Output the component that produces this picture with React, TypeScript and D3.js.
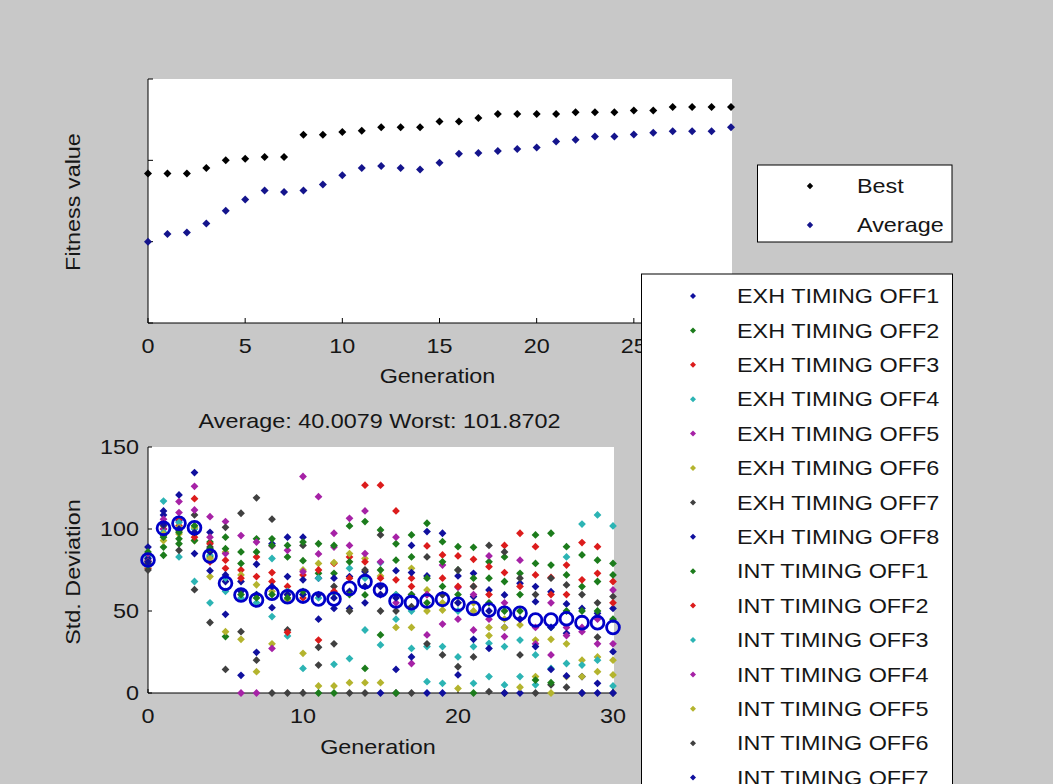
import React from "react";
import * as d3 from "d3";

// ---------- data ----------
const bestFitness = [1.837, 1.837, 1.837, 1.906, 2.0, 2.02, 2.04, 2.04, 2.314, 2.314, 2.347, 2.363, 2.408, 2.408, 2.408, 2.478, 2.478, 2.522, 2.571, 2.571, 2.571, 2.571, 2.592, 2.592, 2.592, 2.612, 2.612, 2.657, 2.657, 2.657, 2.657];
const avgFitness = [1.0, 1.094, 1.114, 1.224, 1.38, 1.518, 1.629, 1.612, 1.629, 1.702, 1.816, 1.906, 1.931, 1.906, 1.886, 1.971, 2.082, 2.09, 2.114, 2.139, 2.159, 2.233, 2.253, 2.294, 2.294, 2.318, 2.339, 2.359, 2.359, 2.359, 2.408];
const topXTicks = [0, 5, 10, 15, 20, 25, 30];
const topYTicks = [0, 1, 2, 3];

const exh1 = [89, 108.6, 120.8, 134.4, 98, 68, 68, 78.5, 91, 95, 95, 70, 51.6, 71, 74, 0, 74.6, 90, 98.4, 97.4, 71.4, 73, 62.8, 59.8, 66.9, 64.9, 61.8, 54.3, 51.6, 48.6, 51.6];
const exh2 = [84, 89, 91, 97, 92, 95, 86, 94, 94, 83, 80.7, 91, 73, 101.9, 104.5, 99.4, 91, 96.4, 103.5, 92.3, 89.2, 88.8, 80, 83, 73, 96.4, 97.4, 89.2, 84.2, 81, 79];
const exh3 = [76, 100, 102, 118.5, 91, 81, 75, 83, 73.4, 65, 72, 32.3, 79, 83, 126.7, 126.7, 111, 70, 89.7, 84.2, 83.6, 81.5, 77, 90, 97.4, 89.2, 70.5, 78, 91.7, 89.2, 68];
const exh4 = [83, 117, 83, 68, 55, 62, 58, 60, 82, 34.8, 15, 58, 60.8, 76, 38.4, 79.5, 45, 27.2, 28.3, 28.3, 22, 28.3, 30.3, 28.3, 32.3, 23.2, 15, 83, 103, 108.6, 101.9];
const exh5 = [81, 100, 116.7, 126, 107.5, 104.5, 96, 0, 89.6, 87, 132, 119.7, 97.4, 106.5, 111, 60, 95, 18, 35.4, 78, 64.4, 38.4, 83.6, 34.4, 81, 40, 23.2, 40, 37.4, 45, 62.8];
const exh6 = [77, 93, 97, 93, 71, 86, 72, 66, 30, 60, 75, 79, 79.5, 85, 82, 71.4, 60, 76, 62.8, 50.6, 2.8, 55, 40, 45, 41.5, 32.3, 32.7, 30, 20, 22, 11];
const exh7 = [75, 96, 87, 108.6, 89, 101, 109.6, 119, 106, 38.4, 90, 27.9, 65, 0, 0, 96.4, 0, 52.7, 83, 23.2, 16, 22, 90, 86, 23.2, 0, 5, 65.9, 0, 34, 58.8];
const exh8 = [82, 111, 105, 85, 74.6, 48, 10.8, 24.8, 52, 71, 69, 45, 70, 51.6, 55, 65, 14.4, 73.4, 71.4, 60, 11, 58.8, 27.2, 40, 0, 55.7, 14.4, 36.4, 10, 5.9, 25.2];
const int1 = [78, 84, 94, 93, 83, 34.4, 79, 86, 90, 90, 92, 73, 0, 80, 59.8, 35.4, 81, 83, 70, 80, 75, 70, 70, 68, 60, 79, 78, 72, 64.9, 68, 72];
const int2 = [80, 104, 106, 95, 80, 76, 70, 71, 68, 37, 58, 75, 62, 70, 80, 70, 69, 65, 60, 70, 65, 65, 60, 73.4, 65, 72, 60, 60, 69, 73, 55];
const int3 = [79, 98, 104, 100, 84, 70, 62, 55, 46.6, 62, 60, 70, 17.5, 21, 70, 29.3, 60, 50, 6.9, 5.9, 50, 5.9, 10, 4.9, 10, 5, 40, 18, 17, 20, 4.3];
const int4 = [85, 106, 110, 111.6, 95, 85, 0, 92, 27.2, 60, 74, 84.8, 89, 90, 85, 80, 55, 60, 60, 42, 45, 60, 45, 55, 45, 30, 55, 35, 40, 30, 30];
const int5 = [80, 97, 101, 101, 82, 37.4, 32.7, 13, 62, 57, 24.2, 4.3, 4.3, 6.3, 6.3, 6.3, 40, 40, 50, 55, 55, 50, 35, 40, 3.5, 10, 0, 10, 10, 13, 20];
const int6 = [79, 102, 99, 63, 43, 14.4, 37.4, 20, 0, 0, 0, 17, 30, 50, 75, 50, 50, 0, 30, 60, 75, 65, 0.8, 0, 70, 60, 70, 3.5, 60, 55, 0];
const int7 = [80, 103, 100, 98, 86, 72, 62, 60, 65, 60, 60, 60, 58, 62, 65, 60, 58, 22, 0, 0, 55, 32.7, 50, 0, 45, 28.3, 40, 10.4, 0, 0, 0];
const int8 = [86, 95, 98, 102, 88, 88, 60, 58, 60, 58, 62, 0, 90, 60, 15, 75, 0, 60, 55, 65, 60, 0, 55, 50, 50, 7.9, 6.3, 50, 50, 50, 45];
const meanStd = [81.1, 100.4, 103.5, 100.8, 83.5, 66.9, 59.8, 56.7, 60.8, 58.7, 59.1, 57.3, 57.3, 63.8, 67.9, 62.8, 56.1, 55.1, 56.1, 57.1, 54.1, 51.6, 50.6, 48.6, 48.6, 44.5, 44.5, 45.3, 42.9, 42.9, 40.0];

const seriesNames = ["EXH TIMING OFF1", "EXH TIMING OFF2", "EXH TIMING OFF3", "EXH TIMING OFF4", "EXH TIMING OFF5", "EXH TIMING OFF6", "EXH TIMING OFF7", "EXH TIMING OFF8", "INT TIMING OFF1", "INT TIMING OFF2", "INT TIMING OFF3", "INT TIMING OFF4", "INT TIMING OFF5", "INT TIMING OFF6", "INT TIMING OFF7", "INT TIMING OFF8"];
const seriesValues = [exh1, exh2, exh3, exh4, exh5, exh6, exh7, exh8, int1, int2, int3, int4, int5, int6, int7, int8];
const botXTicks = [0, 10, 20, 30];
const botYTicks = [0, 50, 100, 150];
const titleText = "Average: 40.0079 Worst: 101.8702";

// MATLAB default colour order (as it appears in the picture)
const colorCycle = ["#10109e", "#1c7c1c", "#dc1c1c", "#2cb4b4", "#a622a6", "#b4b42e", "#404040"];

// ---------- helpers ----------
const FONT = "'Liberation Sans', Arial, Helvetica, sans-serif";
const SX = 1.17;

function diamond(r: number) {
  return `M0,${-r}L${r},0L0,${r}L${-r},0Z`;
}

function T(props: { x: number; y: number; anchor?: string; rotate?: boolean; children: React.ReactNode; size?: number }) {
  const { x, y, anchor = "start", rotate = false, children, size = 20 } = props;
  return (
    <text
      transform={`translate(${x},${y})${rotate ? " rotate(-90)" : ""} scale(${SX},1)`}
      textAnchor={anchor}
      fontFamily={FONT}
      fontSize={size}
      fill="#161616"
    >
      {children}
    </text>
  );
}

export default function App() {
  const W = 1053, H = 784;
  const CAP = 7.2;

  // top axes
  const xT = d3.scaleLinear().domain([0, 30]).range([148, 731]);
  const yT = d3.scaleLinear().domain([0, 3]).range([323, 79]);
  // bottom axes
  const xB = d3.scaleLinear().domain([0, 30]).range([148, 613]);
  const yB = d3.scaleLinear().domain([0, 150]).range([693, 447]);

  const [tx0, tx1] = xT.range();
  const [ty0, ty1] = yT.range();
  const [bx0, bx1] = xB.range();
  const [by0, by1] = yB.range();

  // legends
  const bigLeg = { x: 641.5, y: 274, w: 311, row0: 296, dy: 34.4, mx: 693, tx: 737 };
  const smallLeg = { x: 757.5, y: 165, w: 194.5, h: 77, rows: [186, 225], mx: 810, tx: 857 };

  return (
    <svg width={W} height={H} style={{ position: "absolute", left: 0, top: 0 }} xmlns="http://www.w3.org/2000/svg">
      <rect x={0} y={0} width={W} height={H} fill="#c8c8c8" />

      {/* ===== top plot ===== */}
      <rect x={tx0} y={ty1} width={tx1 - tx0 + 1} height={ty0 - ty1} fill="#fff" />
      <line x1={tx0} y1={ty1} x2={tx0} y2={ty0} stroke="#000" />
      <line x1={tx0} y1={ty0} x2={tx1 + 1} y2={ty0} stroke="#000" />
      {topYTicks.map((t) => (
        <line key={"ty" + t} x1={tx0} x2={tx0 + 5} y1={yT(t)} y2={yT(t)} stroke="#000" />
      ))}
      {topXTicks.map((t) => (
        <line key={"tx" + t} x1={xT(t)} x2={xT(t)} y1={ty0} y2={ty0 - 5} stroke="#000" />
      ))}
      {bestFitness.map((v, i) => (
        <path key={"b" + i} d={diamond(4)} transform={`translate(${xT(i)},${yT(v)})`} fill="#000" />
      ))}
      {avgFitness.map((v, i) => (
        <path key={"a" + i} d={diamond(4)} transform={`translate(${xT(i)},${yT(v)})`} fill="#14148c" />
      ))}
      {topXTicks.map((t) => (
        <T key={"txl" + t} x={xT(t)} y={352.5} anchor="middle">{t}</T>
      ))}
      <T x={437.5} y={383} anchor="middle">Generation</T>
      <T x={73 + CAP} y={202} anchor="middle" rotate>Fitness value</T>

      {/* ===== bottom plot ===== */}
      <T x={379.5} y={427.7} anchor="middle">{titleText}</T>
      <rect x={bx0} y={by1} width={bx1 - bx0 + 1} height={by0 - by1} fill="#fff" />
      <line x1={bx0} y1={by1} x2={bx0} y2={by0} stroke="#000" />
      <line x1={bx0} y1={by0} x2={bx1 + 1} y2={by0} stroke="#000" />
      {botYTicks.map((t) => (
        <line key={"by" + t} x1={bx0} x2={bx0 + 4} y1={yB(t)} y2={yB(t)} stroke="#000" />
      ))}
      {botXTicks.map((t) => (
        <line key={"bx" + t} x1={xB(t)} x2={xB(t)} y1={by0} y2={by0 - 4} stroke="#000" />
      ))}
      {seriesValues.map((vals, s) => (
        <g key={"s" + s} fill={colorCycle[s % colorCycle.length]}>
          {vals.map((v, i) => (
            <path key={i} d={diamond(3.9)} transform={`translate(${xB(i)},${yB(v)})`} />
          ))}
        </g>
      ))}
      {meanStd.map((v, i) => (
        <circle key={"m" + i} cx={xB(i)} cy={yB(v)} r={6.4} fill="none" stroke="#0000c8" strokeWidth={2.8} />
      ))}
      {botXTicks.map((t) => (
        <T key={"bxl" + t} x={xB(t)} y={722.5} anchor="middle">{t}</T>
      ))}
      {botYTicks.map((t) => (
        <T key={"byl" + t} x={139} y={yB(t) + CAP} anchor="end">{t}</T>
      ))}
      <T x={378} y={753.5} anchor="middle">Generation</T>
      <T x={73 + CAP} y={572} anchor="middle" rotate>Std. Deviation</T>

      {/* ===== legends ===== */}
      <rect x={smallLeg.x} y={smallLeg.y} width={smallLeg.w} height={smallLeg.h} fill="#fff" stroke="#000" />
      {["Best", "Average"].map((name, i) => (
        <g key={name}>
          <path d={diamond(3.2)} transform={`translate(${smallLeg.mx},${smallLeg.rows[i]})`} fill={i === 0 ? "#000" : "#14148c"} />
          <T x={smallLeg.tx} y={smallLeg.rows[i] + CAP}>{name}</T>
        </g>
      ))}

      <rect x={bigLeg.x} y={bigLeg.y} width={bigLeg.w} height={H + 40 - bigLeg.y} fill="#fff" stroke="#000" />
      {seriesNames.map((name, i) => {
        const cy = bigLeg.row0 + i * bigLeg.dy;
        return (
          <g key={name}>
            <path d={diamond(3)} transform={`translate(${bigLeg.mx},${cy})`} fill={colorCycle[i % colorCycle.length]} />
            <T x={bigLeg.tx} y={cy + CAP}>{name}</T>
          </g>
        );
      })}
    </svg>
  );
}
